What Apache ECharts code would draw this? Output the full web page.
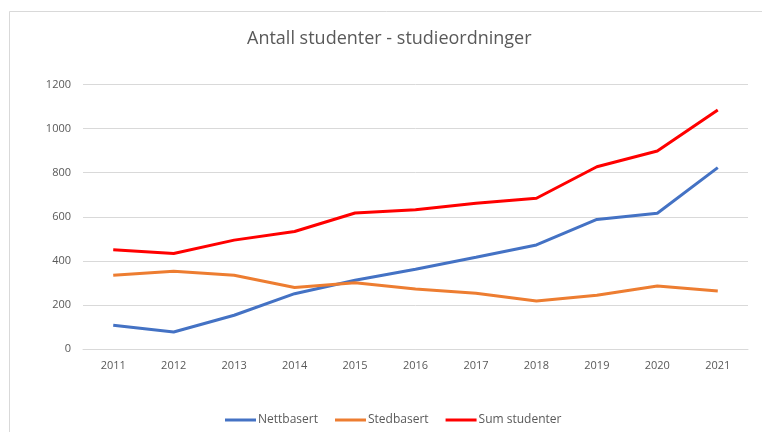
<!DOCTYPE html>
<html>
<head>
<meta charset="utf-8">
<script src="https://cdn.jsdelivr.net/npm/echarts@6/dist/echarts.min.js"></script>
<style>html,body{margin:0;padding:0;background:#fff}#c{width:762px;height:432px}</style>
</head>
<body>
<div id="c"></div>
<script>
var years = ['2011','2012','2013','2014','2015','2016','2017','2018','2019','2020','2021'];
var nettbasert = [108, 77, 153, 251, 312, 362, 416, 472, 588, 616, 823];
var stedbasert = [335, 353, 335, 279, 301, 272, 253, 218, 244, 286, 263];
var sumStudenter = [450, 433, 494, 533, 617, 632, 661, 684, 827, 898, 1084];
var yTicks = [0, 200, 400, 600, 800, 1000, 1200];

var font = 'Open Sans, Liberation Sans, sans-serif';
var chart = echarts.init(document.getElementById('c'));
chart.setOption({
  animation: false,
  backgroundColor: '#fff',
  title: {
    text: 'Antall studenter - studieordninger',
    left: 242, top: 25,
    textStyle: {fontFamily: font, fontSize: 18, fontWeight: 'normal', color: '#595959'}
  },
  graphic: [{
    type: 'rect', silent: true,
    shape: {x: 9.5, y: 11.5, width: 800, height: 500},
    style: {fill: 'none', stroke: '#d9d9d9', lineWidth: 1}
  }],
  legend: {
    bottom: 1, left: 220,
    icon: 'rect', itemWidth: 31, itemHeight: 3, itemGap: 17,
    textStyle: {fontFamily: font, fontSize: 12, color: '#595959', padding: [0,0,0,-3]},
    data: ['Nettbasert', 'Stedbasert', 'Sum studenter']
  },
  grid: {left: 83, right: 14, top: 84.5, bottom: 83, containLabel: false},
  xAxis: {
    type: 'category', data: years, boundaryGap: true,
    axisLine: {lineStyle: {color: '#d9d9d9'}},
    axisTick: {show: false},
    axisLabel: {fontFamily: font, fontSize: 11, color: '#595959', margin: 11}
  },
  yAxis: {
    type: 'value', min: yTicks[0], max: yTicks[yTicks.length-1], interval: 200,
    axisLine: {show: false}, axisTick: {show: false},
    axisLabel: {fontFamily: font, fontSize: 11, color: '#595959', margin: 12,
      formatter: function (v) { return String(v); }},
    splitLine: {lineStyle: {color: '#d9d9d9'}}
  },
  series: [
    {name: 'Nettbasert', type: 'line', data: nettbasert, symbol: 'none', color: '#4472c4', lineStyle: {width: 3}},
    {name: 'Stedbasert', type: 'line', data: stedbasert, symbol: 'none', color: '#ed7d31', lineStyle: {width: 3}},
    {name: 'Sum studenter', type: 'line', data: sumStudenter, symbol: 'none', color: '#ff0000', lineStyle: {width: 3}}
  ]
});
</script>
</body>
</html>
